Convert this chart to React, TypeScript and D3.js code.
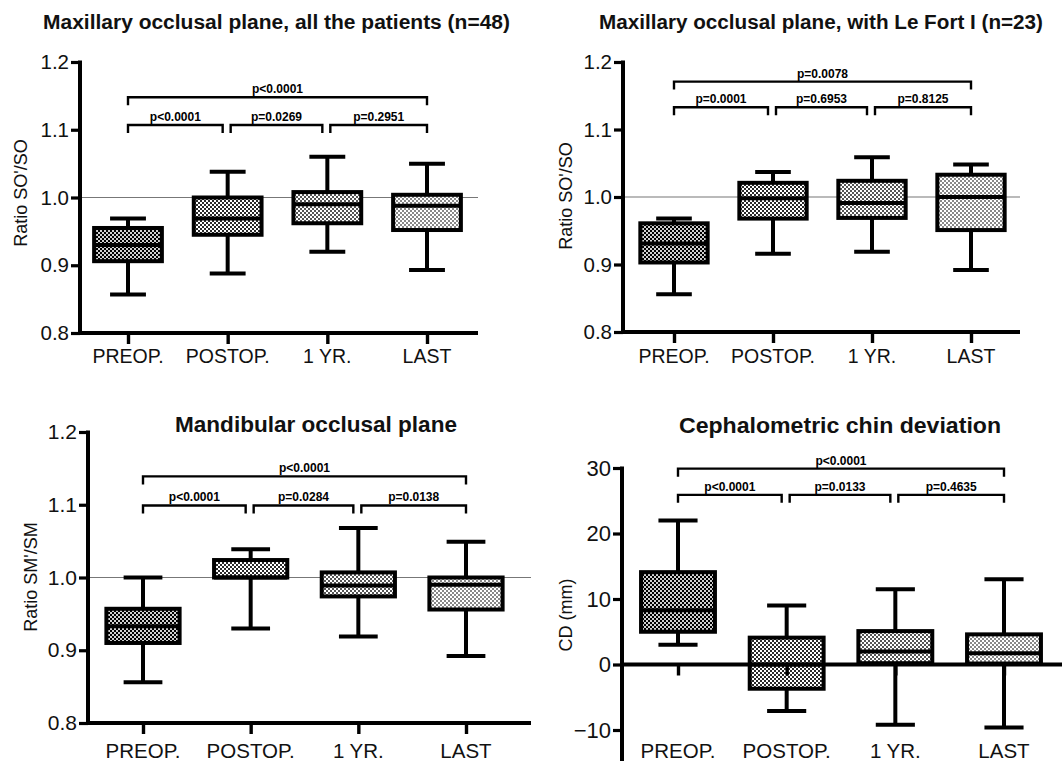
import React from "react";
import * as d3 from "d3";

const categories = ["PREOP.", "POSTOP.", "1 YR.", "LAST"];

// Maxillary occlusal plane, all the patients (n=48)
const maxAllMin = [0.857, 0.888, 0.92, 0.893];
const maxAllQ1 = [0.906, 0.945, 0.962, 0.952];
const maxAllMed = [0.93, 0.969, 0.99, 0.988];
const maxAllQ3 = [0.955, 1.0, 1.008, 1.004];
const maxAllMax = [0.969, 1.038, 1.06, 1.05];
const maxAllP = ["p<0.0001", "p=0.0269", "p=0.2951"];
const maxAllPAll = "p<0.0001";

// Maxillary occlusal plane, with Le Fort I (n=23)
const leFortMin = [0.856, 0.916, 0.919, 0.892];
const leFortQ1 = [0.903, 0.968, 0.969, 0.951];
const leFortMed = [0.931, 0.998, 0.991, 1.0];
const leFortQ3 = [0.961, 1.021, 1.024, 1.033];
const leFortMax = [0.968, 1.037, 1.059, 1.048];
const leFortP = ["p=0.0001", "p=0.6953", "p=0.8125"];
const leFortPAll = "p=0.0078";

// Mandibular occlusal plane
const mandMin = [0.856, 0.93, 0.919, 0.892];
const mandQ1 = [0.91, 1.0, 0.974, 0.956];
const mandMed = [0.933, 1.0, 0.989, 0.99];
const mandQ3 = [0.957, 1.024, 1.007, 1.0];
const mandMax = [1.0, 1.039, 1.068, 1.049];
const mandP = ["p<0.0001", "p=0.0284", "p=0.0138"];
const mandPAll = "p<0.0001";

// Cephalometric chin deviation (mm)
const chinMin = [3.0, -7.1, -9.2, -9.6];
const chinQ1 = [5.0, -3.7, 0.2, 0.15];
const chinMed = [8.3, 0, 2.0, 1.7];
const chinQ3 = [14.1, 4.1, 5.1, 4.6];
const chinMax = [22.0, 9.0, 11.5, 13.0];
const chinP = ["p<0.0001", "p=0.0133", "p=0.4635"];
const chinPAll = "p<0.0001";

const ratioTicks = [0.8, 0.9, 1.0, 1.1, 1.2];
const chinTicks = [-10, 0, 10, 20, 30];

const FONT = "'Liberation Sans', Arial, Helvetica, sans-serif";
const patternInk = ["#000", "#2a2a2a", "#555", "#888"];
const patternBg = ["#d0d0d0", "#fff", "#fff", "#fff"];

function drawPanel(svg: any, p: any) {
  var g = svg.append("g");
  var y = d3.scaleLinear().domain(p.yDomain).range(p.yRange);
  var x = d3.scalePoint().domain(categories).range(p.catRange);
  var step = x.step();
  var bw = step * 0.68;
  var cw = step * 0.36;
  var LW = 4;

  // title
  g.append("text")
    .attr("x", p.titleX)
    .attr("y", p.titleY)
    .attr("text-anchor", "middle")
    .attr("font-family", FONT)
    .attr("font-weight", "bold")
    .attr("font-size", p.titleSize)
    .attr("textLength", p.titleLen)
    .attr("lengthAdjust", "spacingAndGlyphs")
    .attr("fill", "#111")
    .text(p.title);

  // y label
  g.append("text")
    .attr("transform", "translate(" + p.ylabelX + "," + p.ylabelY + ") rotate(-90)")
    .attr("text-anchor", "middle")
    .attr("font-family", FONT)
    .attr("font-size", 18)
    .attr("fill", "#111")
    .text(p.ylabel);

  // reference line
  if (p.refLine != null) {
    g.append("line")
      .attr("x1", p.axisX)
      .attr("x2", p.xEnd)
      .attr("y1", y(p.refLine))
      .attr("y2", y(p.refLine))
      .attr("stroke", "#777")
      .attr("stroke-width", 1.2);
  }

  // whiskers
  categories.forEach(function (c, i) {
    var cx = x(c) as number;
    var wk = g.append("g").attr("stroke", "#000").attr("stroke-width", LW);
    wk.append("line").attr("x1", cx).attr("x2", cx).attr("y1", y(p.max[i])).attr("y2", y(p.min[i]));
    wk.append("line").attr("x1", cx - cw / 2).attr("x2", cx + cw / 2).attr("y1", y(p.max[i])).attr("y2", y(p.max[i]));
    wk.append("line").attr("x1", cx - cw / 2).attr("x2", cx + cw / 2).attr("y1", y(p.min[i])).attr("y2", y(p.min[i]));
  });

  // boxes
  categories.forEach(function (c, i) {
    var cx = x(c) as number;
    g.append("rect")
      .attr("x", cx - bw / 2)
      .attr("y", y(p.q3[i]))
      .attr("width", bw)
      .attr("height", y(p.q1[i]) - y(p.q3[i]))
      .attr("fill", "url(#pat" + i + ")")
      .attr("stroke", "#000")
      .attr("stroke-width", LW);
    g.append("line")
      .attr("x1", cx - bw / 2)
      .attr("x2", cx + bw / 2)
      .attr("y1", y(p.med[i]))
      .attr("y2", y(p.med[i]))
      .attr("stroke", "#000")
      .attr("stroke-width", LW);
  });

  // y axis
  var yAxis = d3.axisLeft(y).tickValues(p.ticks).tickSize(9).tickSizeOuter(0).tickPadding(2)
    .tickFormat(p.fmt);
  var ya = g.append("g").attr("transform", "translate(" + p.axisX + ",0)").call(yAxis);
  ya.select(".domain").remove();
  ya.selectAll("line").attr("stroke", "#000").attr("stroke-width", 3.2);
  ya.selectAll("text").attr("font-family", FONT).attr("font-size", p.tickSize).attr("fill", "#111");
  g.append("line")
    .attr("x1", p.axisX).attr("x2", p.axisX)
    .attr("y1", y(p.yDomain[1]) - 1.6).attr("y2", p.axisBottom)
    .attr("stroke", "#000").attr("stroke-width", LW);

  // x axis
  var xAxis = d3.axisBottom(x).tickSize(11).tickSizeOuter(0).tickFormat(function () { return ""; });
  var xa = g.append("g").attr("transform", "translate(0," + y(p.xAxisAt) + ")").call(xAxis);
  xa.select(".domain").remove();
  xa.selectAll("line").attr("stroke", "#000").attr("stroke-width", 3.4);
  g.append("line")
    .attr("x1", p.axisX - 1.6).attr("x2", p.xEnd)
    .attr("y1", y(p.xAxisAt)).attr("y2", y(p.xAxisAt))
    .attr("stroke", "#000").attr("stroke-width", LW);

  categories.forEach(function (c) {
    g.append("text")
      .attr("x", x(c) as number)
      .attr("y", p.catY)
      .attr("text-anchor", "middle")
      .attr("font-family", FONT)
      .attr("font-size", p.catSize)
      .attr("fill", "#111")
      .text(c);
  });

  // significance brackets
  var drawBracket = function (x1: number, x2: number, yl: number, label: string) {
    g.append("path")
      .attr("d", "M" + x1 + "," + (yl + 8) + "V" + yl + "H" + x2 + "V" + (yl + 8))
      .attr("fill", "none")
      .attr("stroke", "#000")
      .attr("stroke-width", 2.4);
    g.append("text")
      .attr("x", (x1 + x2) / 2)
      .attr("y", yl - 4)
      .attr("text-anchor", "middle")
      .attr("font-family", FONT)
      .attr("font-weight", "bold")
      .attr("font-size", 12)
      .text(label);
  };
  var xs = categories.map(function (c) { return x(c) as number; });
  drawBracket(xs[0], xs[3], y(p.allLevel), p.pAll);
  p.pPairs.forEach(function (lab: string, i: number) {
    var x1 = i === 0 ? xs[0] : xs[i] + 3;
    var x2 = i === 2 ? xs[3] : xs[i + 1] - 5;
    drawBracket(x1, x2, y(p.pairLevel), lab);
  });
}

class App extends React.Component {
  svgRef = React.createRef<SVGSVGElement>();

  componentDidMount() {
    var svg = d3.select(this.svgRef.current);
    svg.selectAll("*").remove();

    var defs = svg.append("defs");
    patternInk.forEach(function (ink, i) {
      var pat = defs.append("pattern")
        .attr("id", "pat" + i)
        .attr("width", 4)
        .attr("height", 4)
        .attr("patternUnits", "userSpaceOnUse");
      pat.append("rect").attr("width", 4).attr("height", 4).attr("fill", patternBg[i]);
      pat.append("rect").attr("width", 2).attr("height", 2).attr("fill", ink);
      pat.append("rect").attr("x", 2).attr("y", 2).attr("width", 2).attr("height", 2).attr("fill", ink);
    });

    svg.append("rect").attr("width", 1062).attr("height", 761).attr("fill", "#fff");

    var fmt1 = d3.format(".1f");
    var fmt0 = d3.format("d");

    drawPanel(svg, {
      title: "Maxillary occlusal plane, all the patients (n=48)",
      titleX: 276.5, titleY: 29, titleLen: 467, titleSize: 20,
      ylabel: "Ratio SO'/SO", ylabelX: 27, ylabelY: 193,
      axisX: 80, yDomain: [0.8, 1.2], yRange: [333, 62], axisBottom: 333,
      catRange: [128, 427], xEnd: 478, xAxisAt: 0.8, catY: 363, catSize: 19.5, tickSize: 20.5,
      ticks: ratioTicks, fmt: fmt1, refLine: 1.0,
      min: maxAllMin, q1: maxAllQ1, med: maxAllMed, q3: maxAllQ3, max: maxAllMax,
      pPairs: maxAllP, pAll: maxAllPAll, allLevel: 1.148, pairLevel: 1.107,
    });

    drawPanel(svg, {
      title: "Maxillary occlusal plane, with Le Fort I (n=23)",
      titleX: 821, titleY: 29, titleLen: 444, titleSize: 20,
      ylabel: "Ratio SO'/SO", ylabelX: 572, ylabelY: 196,
      axisX: 623, yDomain: [0.8, 1.2], yRange: [332, 62], axisBottom: 332,
      catRange: [674, 971], xEnd: 1020, xAxisAt: 0.8, catY: 363, catSize: 19.5, tickSize: 20.5,
      ticks: ratioTicks, fmt: fmt1, refLine: 1.0,
      min: leFortMin, q1: leFortQ1, med: leFortMed, q3: leFortQ3, max: leFortMax,
      pPairs: leFortP, pAll: leFortPAll, allLevel: 1.171, pairLevel: 1.133,
    });

    drawPanel(svg, {
      title: "Mandibular occlusal plane",
      titleX: 316, titleY: 432, titleLen: 282, titleSize: 22,
      ylabel: "Ratio SM'/SM", ylabelX: 37, ylabelY: 577,
      axisX: 88, yDomain: [0.8, 1.2], yRange: [723, 432], axisBottom: 723,
      catRange: [143, 466], xEnd: 531, xAxisAt: 0.8, catY: 758, catSize: 20.5, tickSize: 21,
      ticks: ratioTicks, fmt: fmt1, refLine: 1.0,
      min: mandMin, q1: mandQ1, med: mandMed, q3: mandQ3, max: mandMax,
      pPairs: mandP, pAll: mandPAll, allLevel: 1.139, pairLevel: 1.099,
    });

    drawPanel(svg, {
      title: "Cephalometric chin deviation",
      titleX: 840, titleY: 433, titleLen: 322, titleSize: 22,
      ylabel: "CD (mm)", ylabelX: 572, ylabelY: 615,
      axisX: 622, yDomain: [-10, 30], yRange: [730, 468], axisBottom: 780,
      catRange: [678, 1004], xEnd: 1062, xAxisAt: 0, catY: 758, catSize: 20.5, tickSize: 22,
      ticks: chinTicks, fmt: fmt0, refLine: null,
      min: chinMin, q1: chinQ1, med: chinMed, q3: chinQ3, max: chinMax,
      pPairs: chinP, pAll: chinPAll, allLevel: 29.9, pairLevel: 25.9,
    });
  }

  render() {
    return (
      <svg
        ref={this.svgRef}
        width="1062"
        height="761"
        style={{ position: "absolute", left: 0, top: 0, display: "block" }}
      ></svg>
    );
  }
}

export default App;
